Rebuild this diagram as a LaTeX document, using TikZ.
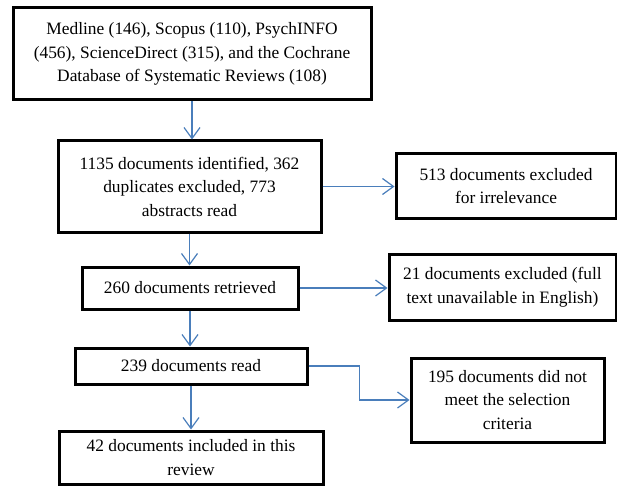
\documentclass[tikz,border=0pt]{standalone}
\usepackage{fontspec}
\setmainfont{Liberation Serif}
\usetikzlibrary{arrows.meta, positioning, calc}
\definecolor{LinkBlue}{RGB}{74,126,187}

\tikzset{
  box/.style={draw, line width=3pt, align=center, inner sep=0pt,
    font=\fontsize{17.4}{23.5}\selectfont},
  link/.style={->, LinkBlue, line width=1.2pt},
}

\begin{document}
\begin{tikzpicture}[x=1pt, y=-1pt, >={Straight Barb[length=11pt,width=16pt]}]
        \useasboundingbox (0,0) rectangle (617,486);

        % Main column
        \node[box, minimum width=358, minimum height=92] (src) at (192,54)
            {Medline (146), Scopus (110), PsychINFO\\(456), ScienceDirect (315), and the Cochrane\\Database of Systematic Reviews (108)};
        \node[box, minimum width=263, minimum height=91] (ident) at (189.5,186.5)
            {1135 documents identified, 362\\duplicates excluded, 773\\abstracts read};
        \node[box, minimum width=216, minimum height=42] (retr) at (190,288) {260 documents retrieved};
        \node[box, minimum width=232, minimum height=36] (read) at (191,366) {239 documents read};
        \node[box, minimum width=264, minimum height=53] (incl) at (191,457.5)
            {42 documents included in this\\review};

        % Exclusions on the right
        \node[box, minimum width=220, minimum height=64] (irr) at (506,186)
            {513 documents excluded\\for irrelevance};
        \node[box, minimum width=227, minimum height=66] (full) at (502.5,287)
            {21 documents excluded (full\\text unavailable in English)};
        \node[box, minimum width=193, minimum height=84] (crit) at (507.5,400)
            {195 documents did not\\meet the selection\\criteria};

        % Arrows
        \draw[link] (src.south) -- (src.south |- ident.north);
        \draw[link] (ident.south) -- (ident.south |- retr.north);
        \draw[link] (retr.south) -- (retr.south |- read.north);
        \draw[link] (read.south) -- (read.south |- incl.north);
        \draw[link] (ident.east) -- (ident.east -| irr.west);
        \draw[link] (retr.east) -- (retr.east -| full.west);
        \draw[link] (read.east) -- ++(51,0) |- (crit.west);
\end{tikzpicture}
\end{document}
